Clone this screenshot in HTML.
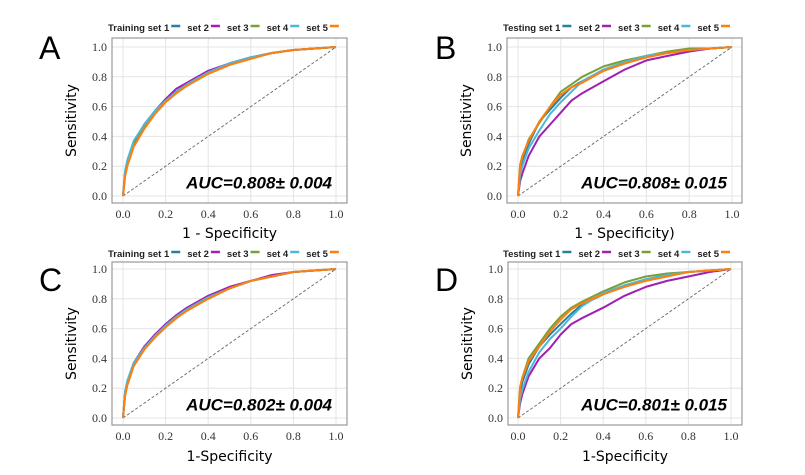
<!DOCTYPE html>
<html><head><meta charset="utf-8"><style>
body{margin:0;background:#fff;}
svg{display:block;}
</style></head><body>
<svg id="fig" width="805" height="475" viewBox="0 0 805 475" xmlns="http://www.w3.org/2000/svg"></svg>
<script>
const fpr = [0,0.01,0.02,0.05,0.1,0.15,0.2,0.25,0.3,0.4,0.5,0.6,0.7,0.8,0.9,1];
const setNames = ["set 1","set 2","set 3","set 4","set 5"];
const setColors = ["#2a7fa0","#a020b0","#77a03a","#4cb8d8","#ff7f0e"];
const ticks = [0,0.2,0.4,0.6,0.8,1.0];
const tickLabels = ["0.0","0.2","0.4","0.6","0.8","1.0"];
const tprA = [
 [0,0.16,0.23,0.36,0.48,0.57,0.64,0.70,0.75,0.83,0.89,0.93,0.96,0.98,0.99,1],
 [0,0.15,0.22,0.36,0.48,0.57,0.65,0.72,0.76,0.84,0.89,0.93,0.96,0.98,0.99,1],
 [0,0.14,0.21,0.34,0.46,0.55,0.63,0.69,0.74,0.82,0.88,0.93,0.96,0.98,0.99,1],
 [0,0.17,0.24,0.37,0.48,0.57,0.64,0.70,0.75,0.83,0.89,0.93,0.96,0.98,0.99,1],
 [0,0.13,0.20,0.33,0.45,0.55,0.63,0.69,0.74,0.82,0.88,0.92,0.96,0.98,0.99,1]];
const tprB = [
 [0,0.18,0.24,0.35,0.50,0.58,0.66,0.73,0.77,0.84,0.89,0.94,0.96,0.98,0.99,1],
 [0,0.10,0.15,0.27,0.40,0.48,0.56,0.64,0.69,0.77,0.85,0.91,0.94,0.97,0.99,1],
 [0,0.20,0.26,0.38,0.49,0.60,0.70,0.75,0.80,0.87,0.91,0.94,0.97,0.99,0.99,1],
 [0,0.14,0.20,0.32,0.44,0.55,0.63,0.70,0.77,0.85,0.90,0.94,0.96,0.98,0.99,1],
 [0,0.21,0.27,0.37,0.50,0.60,0.68,0.73,0.76,0.84,0.89,0.93,0.96,0.98,0.99,1]];
const tprC = [
 [0,0.17,0.24,0.36,0.47,0.55,0.62,0.68,0.73,0.81,0.87,0.92,0.95,0.98,0.99,1],
 [0,0.17,0.24,0.37,0.48,0.56,0.63,0.69,0.74,0.82,0.88,0.92,0.96,0.98,0.99,1],
 [0,0.15,0.22,0.35,0.46,0.54,0.61,0.67,0.72,0.80,0.87,0.92,0.95,0.98,0.99,1],
 [0,0.18,0.25,0.37,0.47,0.55,0.62,0.68,0.73,0.81,0.87,0.92,0.95,0.98,0.99,1],
 [0,0.15,0.22,0.35,0.46,0.54,0.61,0.67,0.72,0.80,0.87,0.92,0.95,0.98,0.99,1]];
const tprD = [
 [0,0.17,0.24,0.36,0.48,0.56,0.63,0.70,0.76,0.83,0.89,0.93,0.96,0.98,0.99,1],
 [0,0.10,0.16,0.28,0.40,0.47,0.56,0.63,0.67,0.74,0.82,0.88,0.92,0.95,0.98,1],
 [0,0.20,0.27,0.40,0.50,0.60,0.68,0.74,0.78,0.85,0.91,0.95,0.97,0.98,0.99,1],
 [0,0.13,0.19,0.31,0.44,0.53,0.60,0.68,0.75,0.84,0.89,0.93,0.96,0.98,0.99,1],
 [0,0.21,0.27,0.38,0.48,0.58,0.66,0.73,0.77,0.83,0.88,0.92,0.95,0.98,0.99,1]];

const NS="http://www.w3.org/2000/svg";
const fig=document.getElementById('fig');
function el(tag,attrs,parent){const e=document.createElementNS(NS,tag);for(const k in attrs)e.setAttribute(k,attrs[k]);(parent||fig).appendChild(e);return e;}

const panels=[
 {letter:"A",lx:39,ly:59,box:[112,38,347,203],x0:123,x1:336,y1:47,y0:196,leg:"Training",legX:108,legY:31,xlab:"1 - Specificity",xlabY:238,auc:"AUC=0.808± 0.004",data:tprA},
 {letter:"B",lx:435,ly:59,box:[507,38,742,203],x0:518,x1:732,y1:47,y0:196,leg:"Testing",legX:503,legY:31,xlab:"1 - Specificity)",xlabY:238,auc:"AUC=0.808± 0.015",data:tprB},
 {letter:"C",lx:39,ly:291,box:[112,262,347,425],x0:123,x1:336,y1:269,y0:418,leg:"Training",legX:108,legY:257,xlab:"1-Specificity",xlabY:461,auc:"AUC=0.802± 0.004",data:tprC},
 {letter:"D",lx:435,ly:291,box:[508,262,742,425],x0:518,x1:731,y1:269,y0:418,leg:"Testing",legX:503,legY:257,xlab:"1-Specificity",xlabY:461,auc:"AUC=0.801± 0.015",data:tprD}];

panels.forEach(p=>{
 const g=el('g',{});
 
 
 const sx=v=>p.x0+v*(p.x1-p.x0), sy=v=>p.y0-v*(p.y0-p.y1);
 const L=el('text',{x:p.lx,y:p.ly,'font-family':'Liberation Sans, sans-serif','font-size':32,fill:'#000'},g);L.textContent=p.letter;
 
 
 const [bx0,by0,bx1,by1]=p.box;
 ticks.forEach((t,i)=>{
  const gx=el('line',{x1:sx(t),x2:sx(t),y1:by0,y2:by1,stroke:'#e4e4e4','stroke-width':1},g);
  
  
  const gy=el('line',{x1:bx0,x2:bx1,y1:sy(t),y2:sy(t),stroke:'#e4e4e4','stroke-width':1},g);
  
  
  const tx=el('text',{x:sx(t),y:by1+15,'text-anchor':'middle','font-family':'Liberation Serif, serif','font-size':12,fill:'#333'},g);tx.textContent=tickLabels[i];
  
  
  const ty=el('text',{x:bx0-5,y:sy(t)+4,'text-anchor':'end','font-family':'Liberation Serif, serif','font-size':12,fill:'#333'},g);ty.textContent=tickLabels[i];
  
  
 });
 const box=el('rect',{x:bx0,y:by0,width:bx1-bx0,height:by1-by0,fill:'none',stroke:'#999','stroke-width':1.2},g);
 
 
 const diag=el('line',{x1:sx(0),y1:sy(0),x2:sx(1),y2:sy(1),stroke:'#666','stroke-width':0.9,'stroke-dasharray':'3,2'},g);
 
 
 p.data.forEach((ser,si)=>{
  const pts=fpr.map((f,i)=>sx(f).toFixed(1)+','+sy(ser[i]).toFixed(1)).join(' ');
  const pl=el('polyline',{points:pts,fill:'none',stroke:setColors[si],'stroke-width':2,'stroke-linejoin':'round'},g);
  
  
 });
 const auc=el('text',{x:bx1-15,y:sy(0.03)-3,'text-anchor':'end','font-family':'Liberation Sans, sans-serif','font-size':17,'font-weight':'bold','font-style':'italic',fill:'#000'},g);auc.textContent=p.auc;
 
 
 const yl=el('text',{x:0,y:0,transform:`translate(${bx0-36},${(by0+by1)/2}) rotate(-90)`,'text-anchor':'middle','font-family':'DejaVu Sans, sans-serif','font-size':14,fill:'#000'},g);yl.textContent='Sensitivity';
 
 
 const xl=el('text',{x:(bx0+bx1)/2,y:p.xlabY,'text-anchor':'middle','font-family':'DejaVu Sans, sans-serif','font-size':14,fill:'#000'},g);xl.textContent=p.xlab;
 
 
 const lg=el('g',{},g);
 
 
 let x=p.legX;
 setNames.forEach((n,si)=>{
  const label=(si===0?p.leg+' ':'')+n;
  const t=el('text',{x:x,y:p.legY,'font-family':'Liberation Sans, sans-serif','font-size':9.5,'font-weight':'bold',fill:'#222'},lg);t.textContent=label;
  
  
  const w=t.getComputedTextLength();
  const sw=el('line',{x1:x+w+2,x2:x+w+11,y1:p.legY-5,y2:p.legY-5,stroke:setColors[si],'stroke-width':2.5},lg);
  
  
  x+=w+18;
 });
});
</script>
</body></html>
